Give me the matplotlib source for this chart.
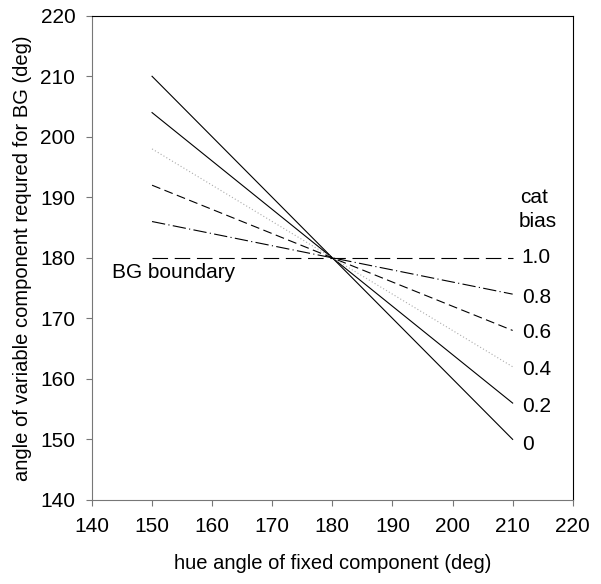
import matplotlib
matplotlib.use("Agg")
import matplotlib.pyplot as plt

plt.rcParams["font.family"] = ["Liberation Sans", "DejaVu Sans"]

# fixed component hue angle (deg)
hue_fixed = [150, 210]
# category bias levels and required variable component angle at each end
bias_labels = ["0", "0.2", "0.4", "0.6", "0.8", "1.0"]
required_angle = [
    [210, 150],
    [204, 156],
    [198, 162],
    [192, 168],
    [186, 174],
    [180, 180],
]
# where the bias labels sit on the right (deg)
label_y = [149.1, 155.4, 161.5, 167.6, 173.4, 180.0]

styles = [
    dict(color="black", linestyle="-", linewidth=0.8),
    dict(color="black", linestyle="-", linewidth=0.8),
    dict(color="#aaaaaa", linestyle=(0, (1, 2)), linewidth=0.8),
    dict(color="black", linestyle=(0, (8, 4)), linewidth=0.8),
    dict(color="black", linestyle=(0, (12, 3, 1, 3)), linewidth=0.8),
    dict(color="black", linestyle=(0, (14, 6)), linewidth=0.8),
]

fig = plt.figure(figsize=(6.01, 5.84), dpi=100)
ax = fig.add_axes([0.153, 0.144, 0.80, 0.829])

for vals, st in zip(required_angle, styles):
    ax.plot(hue_fixed, vals, **st)

for lab, y in zip(bias_labels, label_y):
    ax.text(211.5, y, lab, fontsize=15, va="center", ha="left")
ax.text(211.3, 189.9, "cat", fontsize=15, va="center", ha="left")
ax.text(211.0, 186.0, "bias", fontsize=15, va="center", ha="left")
ax.text(143.3, 177.5, "BG boundary", fontsize=15, va="center", ha="left")

ax.set_xlim(140, 220)
ax.set_ylim(140, 220)
ax.set_xticks(range(140, 221, 10))
ax.set_yticks(range(140, 221, 10))
ax.tick_params(direction="out", labelsize=15, length=4, width=0.8, pad=8,
               colors="#777777", labelcolor="black")
for s in ax.spines.values():
    s.set_linewidth(0.8)
    s.set_color("black")
ax.spines["left"].set_color("#777777")
ax.spines["bottom"].set_color("#777777")

ax.set_xlabel("hue angle of fixed component (deg)", fontsize=14.5, labelpad=13)
ax.set_ylabel("angle of variable component requred for BG (deg)", fontsize=14.5, labelpad=6)

fig.savefig("out.png", dpi=100)
